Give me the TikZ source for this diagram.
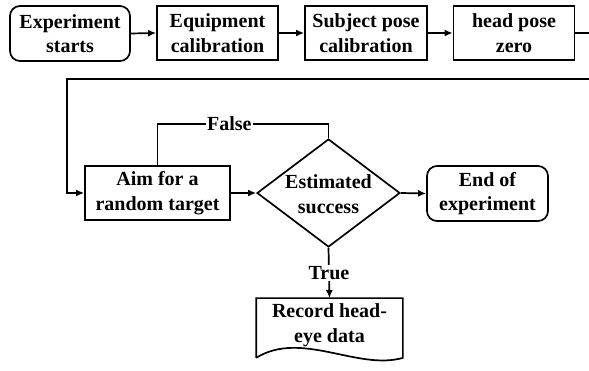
\documentclass[tikz,border=0pt]{standalone}
\usepackage{fontspec}
\setmainfont{Liberation Serif}
\usetikzlibrary{arrows.meta,shapes.geometric}

\tikzset{
  base/.style={draw, line width=1.7pt, align=center, inner sep=0pt,
    font=\bfseries\fontsize{20}{24.5}\selectfont},
  stepbox/.style={base, rectangle, minimum height=54pt},
  termbox/.style={base, rectangle, rounded corners=10pt, minimum height=55pt},
  decbox/.style={base, diamond, minimum width=143pt, minimum height=108pt},
  conn/.style={line width=1.7pt},
  arr/.style={conn, -{Latex[length=8pt,width=7pt]}},
  lbl/.style={fill=white, inner sep=1pt, font=\bfseries\fontsize{20}{24}\selectfont},
}

\begin{document}
\begin{tikzpicture}[x=1pt, y=-1pt]
  \useasboundingbox (0,0) rectangle (589,371);

  % top row
  \node[termbox, minimum width=120pt] (start) at (70,33.5) {Experiment\\starts};
  \node[stepbox, minimum width=121pt] (eq) at (217.5,33) {Equipment\\calibration};
  \node[stepbox, minimum width=122pt] (subj) at (366,33) {Subject pose\\calibration};
  \node[stepbox, minimum width=121pt] (zero) at (514,33) {head pose\\zero};

  % bottom row
  \node[stepbox, minimum width=145pt] (aim) at (157.5,193) {Aim for a\\random target};
  \node[decbox] (dec) at (328.5,193) {};
  \node[base, draw=none] (dectext) at (328.5,194) {Estimated\\success};
  \node[termbox, minimum width=121pt] (end) at (487.5,193.5) {End of\\experiment};

  % document node with wavy bottom
  \node[base, draw=none, minimum width=145pt, minimum height=52pt] (rec) at (329.5,325)
    {Record head-\\eye data};
  \draw[conn, line join=miter]
    ([yshift=-6pt]rec.south west) -- (rec.north west) -- (rec.north east)
    -- ([yshift=-6pt]rec.south east)
    .. controls ([xshift=-45pt,yshift=-19pt]rec.south east)
       and ([xshift=45pt,yshift=22pt]rec.south west) ..
    ([yshift=-6pt]rec.south west);

  % flow along the top row
  \draw[arr] (start.east) -- (eq.west);
  \draw[arr] (eq.east) -- (subj.west);
  \draw[arr] (subj.east) -- (zero.west);

  % return line to the second row
  \coordinate (outA) at (589,33);
  \coordinate (outB) at (589,79);
  \coordinate (turn) at (67,79);
  \draw[conn] (zero.east) -- (outA);
  \draw[arr] (outB) -- (turn) |- (aim.west);

  % second row
  \draw[arr] (aim.east) -- (dec.west);
  \draw[arr] (dec.east) -- (end.west);
  \draw[conn] (dec.north) -- ++(0,-14) -| node[lbl, pos=0.29] {False} (aim.north);
  \draw[arr] (dec.south) -- node[lbl] {True} (rec.north);
\end{tikzpicture}
\end{document}
